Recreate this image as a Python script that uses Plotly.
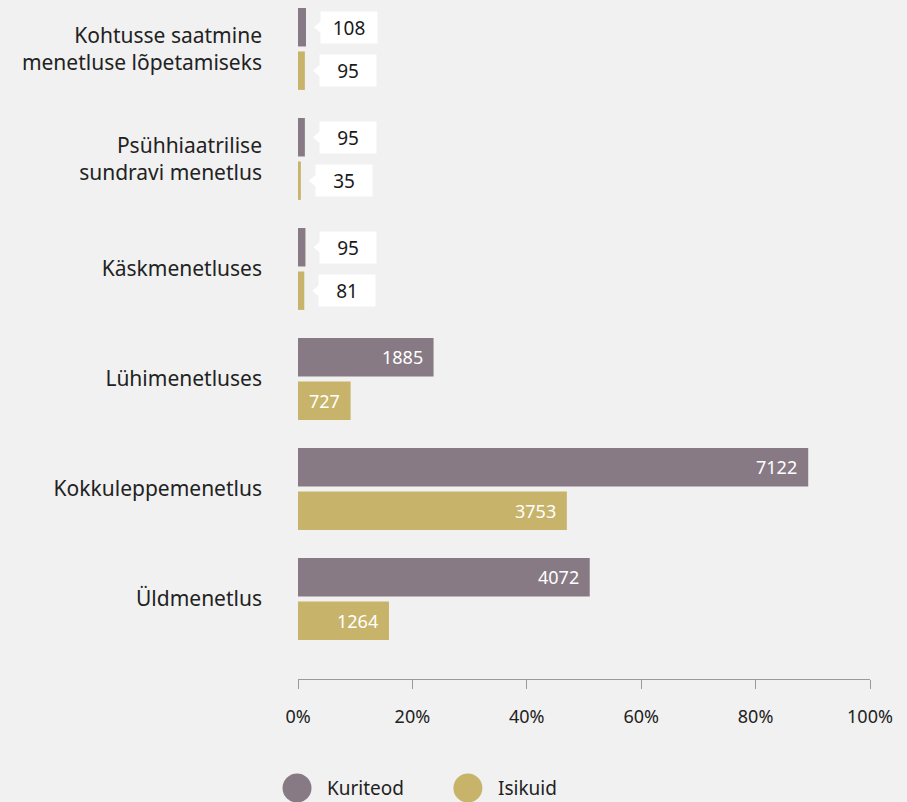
import plotly.graph_objects as go

# categories top to bottom
categories = ["Kohtusse saatmine<br>menetluse lõpetamiseks",
              "Psühhiaatrilise<br>sundravi menetlus",
              "Käskmenetluses",
              "Lühimenetluses",
              "Kokkuleppemenetlus",
              "Üldmenetlus"]

# counts shown in the labels
kuriteod_n = [108, 95, 95, 1885, 7122, 4072]
isikuid_n = [95, 35, 81, 727, 3753, 1264]

# bar length in %
kuriteod_pct = [1.4, 1.2, 1.3, 23.7, 89.2, 51.0]
isikuid_pct = [1.2, 0.5, 1.1, 9.2, 47.0, 15.9]

x_ticks = [0, 20, 40, 60, 80, 100]

col_k = "#877a85"
col_i = "#c7b46a"
bg = "#f1f1f1"
font = "Noto Sans"

fig = go.Figure()
fig.add_trace(go.Bar(y=categories, x=kuriteod_pct, orientation="h", name="Kuriteod",
                     marker=dict(color=col_k, line=dict(width=0)), hoverinfo="skip"))
fig.add_trace(go.Bar(y=categories, x=isikuid_pct, orientation="h", name="Isikuid",
                     marker=dict(color=col_i, line=dict(width=0)), hoverinfo="skip"))

shapes = []
annotations = []
for series, dy in ((zip(kuriteod_pct, kuriteod_n), 21.75), (zip(isikuid_pct, isikuid_n), -21.75)):
    for cat, (p, n) in zip(categories, series):
        if p > 5:
            annotations.append(dict(x=p, y=cat, xref="x", yref="y", text=str(n), showarrow=False,
                                    xanchor="right", xshift=-9, yshift=dy,
                                    font=dict(family=font, size=18, color="white")))
        else:
            annotations.append(dict(x=p, y=cat, xref="x", yref="y", text=str(n), showarrow=False,
                                    xanchor="left", xshift=14, yshift=dy, width=56, height=31,
                                    borderpad=0, bgcolor="white", align="center",
                                    font=dict(family=font, size=19, color="#1a1a1a")))
            # little pointer on the left of the callout
            shapes.append(dict(type="path", xref="x", yref="y", xsizemode="pixel", ysizemode="pixel",
                               xanchor=p, yanchor=cat,
                               path="M 8,%s L 15,%s L 15,%s Z" % (dy, dy + 6, dy - 6),
                               fillcolor="white", line=dict(width=0), layer="above"))

# legend drawn by hand (bigger circles than plotly's legend allows)
for lx, tx, col, name in ((-0.0017, 0.047, col_k, "Kuriteod"), (0.297, 0.346, col_i, "Isikuid")):
    shapes.append(dict(type="circle", xref="paper", yref="paper", xsizemode="pixel", ysizemode="pixel",
                       xanchor=lx, yanchor=-0.1605, x0=-14.5, x1=14.5, y0=-14.5, y1=14.5,
                       fillcolor=col, line=dict(width=0)))
    annotations.append(dict(x=tx, y=-0.1605, xref="paper", yref="paper", text=name, showarrow=False,
                            xanchor="left", yanchor="middle",
                            font=dict(family=font, size=19, color="#222")))

fig.update_layout(
    width=907, height=802,
    paper_bgcolor=bg, plot_bgcolor=bg,
    margin=dict(l=298, r=37, t=0, b=123),
    barmode="group", bargap=0.21, bargroupgap=0.115,
    showlegend=False,
    font=dict(family=font, size=19, color="#222"),
    shapes=shapes, annotations=annotations,
)
fig.update_xaxes(range=[0, 100], tickvals=x_ticks, ticktext=[f"{t}%" for t in x_ticks],
                 showgrid=False, zeroline=False, showline=True, linecolor="#9a9a9a", linewidth=1,
                 ticks="outside", ticklen=9, tickcolor="#9a9a9a", ticklabelstandoff=12,
                 tickfont=dict(family=font, size=18, color="#222"))
fig.update_yaxes(type="category", categoryorder="array", categoryarray=categories,
                 range=[5.727, -0.445], showgrid=False, zeroline=False, showline=False,
                 ticks="", ticklabelstandoff=35,
                 tickfont=dict(family=font, size=21, color="#222"))

# page has a default 8px body margin, drop it so the figure fills the window
fig.write_html("out.html", config={"displayModeBar": False},
               post_script="document.body.style.margin='0';")
